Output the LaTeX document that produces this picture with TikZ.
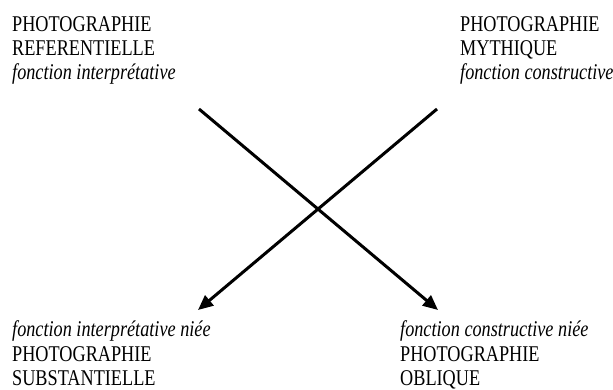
\documentclass[tikz,border=0pt]{standalone}
\usepackage{fontspec}
\setmainfont{Liberation Serif}[FakeStretch=0.81]
\usetikzlibrary{arrows.meta}
\begin{document}
\begin{tikzpicture}[x=1pt,y=-1pt,
  lbl/.style={anchor=base west,inner sep=0pt,font=\fontsize{22.5}{24}\selectfont},
  ilbl/.style={lbl,font=\fontsize{22.5}{24}\selectfont\itshape},
  arr/.style={line width=3pt,-{Triangle[length=15pt,width=13pt]}}]
\useasboundingbox (0,0) rectangle (613,390);
% top left
\node[lbl]  (tl1) at (12,31.7) {PHOTOGRAPHIE};
\node[lbl]  (tl2) at (12,55.5) {REFERENTIELLE};
\node[ilbl] (tl3) at (12,80) {fonction interprétative};
% top right
\node[lbl]  (tr1) at (460,31.7) {PHOTOGRAPHIE};
\node[lbl]  (tr2) at (460,55.5) {MYTHIQUE};
\node[ilbl] (tr3) at (460,80) {fonction constructive};
% bottom left
\node[ilbl] (bl1) at (12,336) {fonction interprétative niée};
\node[lbl]  (bl2) at (12,361) {PHOTOGRAPHIE};
\node[lbl]  (bl3) at (12,385.5) {SUBSTANTIELLE};
% bottom right
\node[ilbl] (br1) at (400,336) {fonction constructive niée};
\node[lbl]  (br2) at (400,361) {PHOTOGRAPHIE};
\node[lbl]  (br3) at (400,385.5) {OBLIQUE};
% arrows
\coordinate (s1) at (199,109);
\coordinate (e1) at (438,310);
\coordinate (s2) at (437,109);
\coordinate (e2) at (198,310);
\draw[arr] (s1) -- (e1);
\draw[arr] (s2) -- (e2);
\end{tikzpicture}
\end{document}
